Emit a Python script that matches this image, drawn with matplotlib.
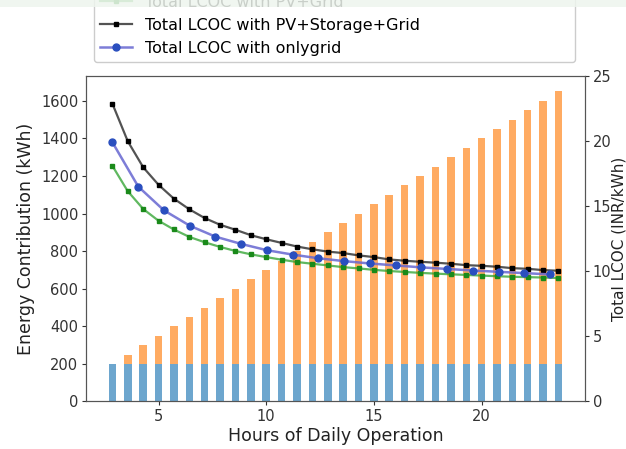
import matplotlib
matplotlib.use("Agg")
import matplotlib.pyplot as plt
from matplotlib.patches import Rectangle

# Hours of daily operation for the energy bars and the two dense LCOC curves
hours = [2.86, 3.57, 4.29, 5.00, 5.71, 6.43, 7.14, 7.86, 8.57, 9.29,
         10.00, 10.71, 11.43, 12.14, 12.86, 13.57, 14.29, 15.00, 15.71, 16.43,
         17.14, 17.86, 18.57, 19.29, 20.00, 20.71, 21.43, 22.14, 22.86, 23.57]

# Energy contribution (kWh)
grid_energy = [200] * 30
total_energy = [200, 250, 300, 350, 400, 450, 500, 550, 600, 650,
                700, 750, 800, 850, 900, 950, 1000, 1050, 1100, 1150,
                1200, 1250, 1300, 1350, 1400, 1450, 1500, 1550, 1600, 1650]
pv_energy = [t - g for t, g in zip(total_energy, grid_energy)]

# Total LCOC (INR/kWh)
lcoc_pv_storage_grid = [22.86, 19.99, 17.98, 16.64, 15.58, 14.76, 14.09, 13.57, 13.19, 12.77,
                        12.46, 12.18, 11.90, 11.69, 11.51, 11.40, 11.22, 11.09, 10.91, 10.81,
                        10.73, 10.66, 10.58, 10.47, 10.42, 10.35, 10.24, 10.19, 10.09, 10.04]
lcoc_pv_grid = [18.09, 16.15, 14.78, 13.88, 13.21, 12.64, 12.23, 11.87, 11.56, 11.30,
                11.09, 10.89, 10.71, 10.58, 10.45, 10.32, 10.22, 10.11, 10.02, 9.95,
                9.88, 9.82, 9.77, 9.72, 9.67, 9.62, 9.58, 9.55, 9.52, 9.48]

hours_grid = [2.86, 4.06, 5.25, 6.45, 7.64, 8.84, 10.03, 11.23, 12.42,
              13.62, 14.81, 16.01, 17.20, 18.40, 19.59, 20.79, 21.98, 23.18]
lcoc_only_grid = [19.90, 16.50, 14.68, 13.50, 12.66, 12.10, 11.62, 11.28, 11.00,
                  10.78, 10.60, 10.45, 10.30, 10.18, 10.06, 9.96, 9.86, 9.76]

fig = plt.figure(figsize=(6.26, 4.49), dpi=100)
ax = fig.add_axes([0.1374, 0.1058, 0.797, 0.725])

bar_w = 0.35
ax.bar(hours, grid_energy, width=bar_w, color="#1f77b4", alpha=0.65, label="Energy from Grid")
ax.bar(hours, pv_energy, width=bar_w, bottom=grid_energy, color="#ff7f0e", alpha=0.65,
       label="Energy from PV")
ax.set_xlabel("Hours of Daily Operation", fontsize=12.5, color="#222222", labelpad=2)
ax.set_ylabel("Energy Contribution (kWh)", fontsize=12.5, color="#222222", labelpad=4)
ax.set_xticks([5, 10, 15, 20])
ax.set_yticks(range(0, 1700, 200))

ax2 = ax.twinx()
l_green, = ax2.plot(hours, lcoc_pv_grid, color=(0.17, 0.63, 0.17, 0.75), lw=1.6,
                    marker="s", ms=3.5, mfc="#1a8a1a", mec="#1a8a1a",
                    label="Total LCOC with PV+Grid")
l_black, = ax2.plot(hours, lcoc_pv_storage_grid, color=(0.1, 0.1, 0.1, 0.75), lw=1.6,
                    marker="s", ms=3.5, mfc="black", mec="black",
                    label="Total LCOC with PV+Storage+Grid")
l_blue, = ax2.plot(hours_grid, lcoc_only_grid, color=(0.40, 0.40, 0.82, 0.85), lw=1.8,
                   marker="o", ms=5, mfc="#2a4fbf", mec="#2a4fbf",
                   label="Total LCOC with onlygrid")
ax2.set_ylim(0, 25)
ax2.set_yticks([0, 5, 10, 15, 20, 25])
ax2.set_ylabel("Total LCOC (INR/kWh)", fontsize=11, color="#222222", labelpad=0)

for a in (ax, ax2):
    a.tick_params(labelsize=10.5, colors="#333333", length=3, pad=2.5)
    for s in a.spines.values():
        s.set_color("#555555")

fig.legend(handles=[l_green, l_black, l_blue], loc="lower left",
           bbox_to_anchor=(94 / 626, 1 - 62 / 449, 481 / 626, 0.2), mode="expand",
           borderaxespad=0, fontsize=11.5, frameon=True, edgecolor="#cccccc",
           fancybox=True, framealpha=1.0)

fig.patches.append(Rectangle((0, 1 - 7 / 449), 1, 7 / 449, transform=fig.transFigure,
                             facecolor="#eef5ee", alpha=0.85, edgecolor="none", zorder=10))

fig.savefig("out.png", dpi=100)
